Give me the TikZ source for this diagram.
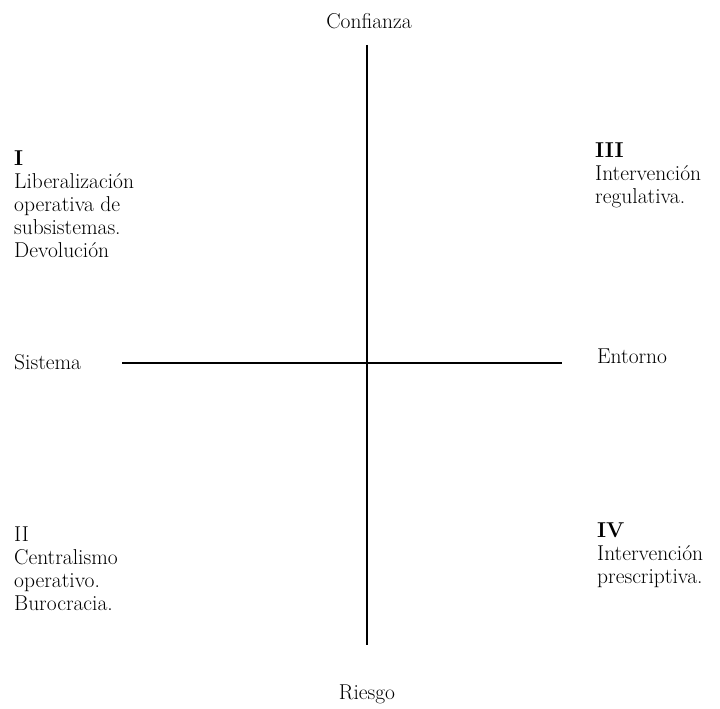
\documentclass[tikz,border=0pt]{standalone}
\usepackage{fontspec}
\usepackage{tikz}
\usetikzlibrary{positioning}

\begin{document}
\begin{tikzpicture}[x=1pt, y=-1pt,
    axis/.style={line width=1.6pt, black},
    pole/.style={font=\fontsize{21.5}{23}\selectfont, inner sep=0pt},
    quad/.style={font=\fontsize{21.5}{23}\selectfont, align=left, anchor=north west, inner sep=0pt},
]
\useasboundingbox (0,0) rectangle (720,709);

% Axis labels
\node[pole] (conf) at (369,21) {Confianza};
\node[pole] (riesgo) at (367,694) {Riesgo};
\node[pole, anchor=west] (sist) at (14,362) {Sistema};
\node[pole, anchor=west] (ento) at (597,356) {Entorno};

% Axes
\coordinate (top) at (367,45);
\coordinate (bot) at (367,645);
\coordinate (lft) at (122,363);
\coordinate (rgt) at (562,363);
\draw[axis] (top) -- (bot);
\draw[axis] (lft) -- (rgt);

% Quadrants
\node[quad] (q1) at (14,151) {\textbf{I}\\Liberalización\\operativa de\\subsistemas.\\Devolución};
\node[quad] (q3) at (595,143) {\textbf{III}\\Intervención\\regulativa.};
\node[quad] (q2) at (14,527) {II\\Centralismo\\operativo.\\Burocracia.};
\node[quad] (q4) at (597,523) {\textbf{IV}\\Intervención\\prescriptiva.};
\end{tikzpicture}
\end{document}
